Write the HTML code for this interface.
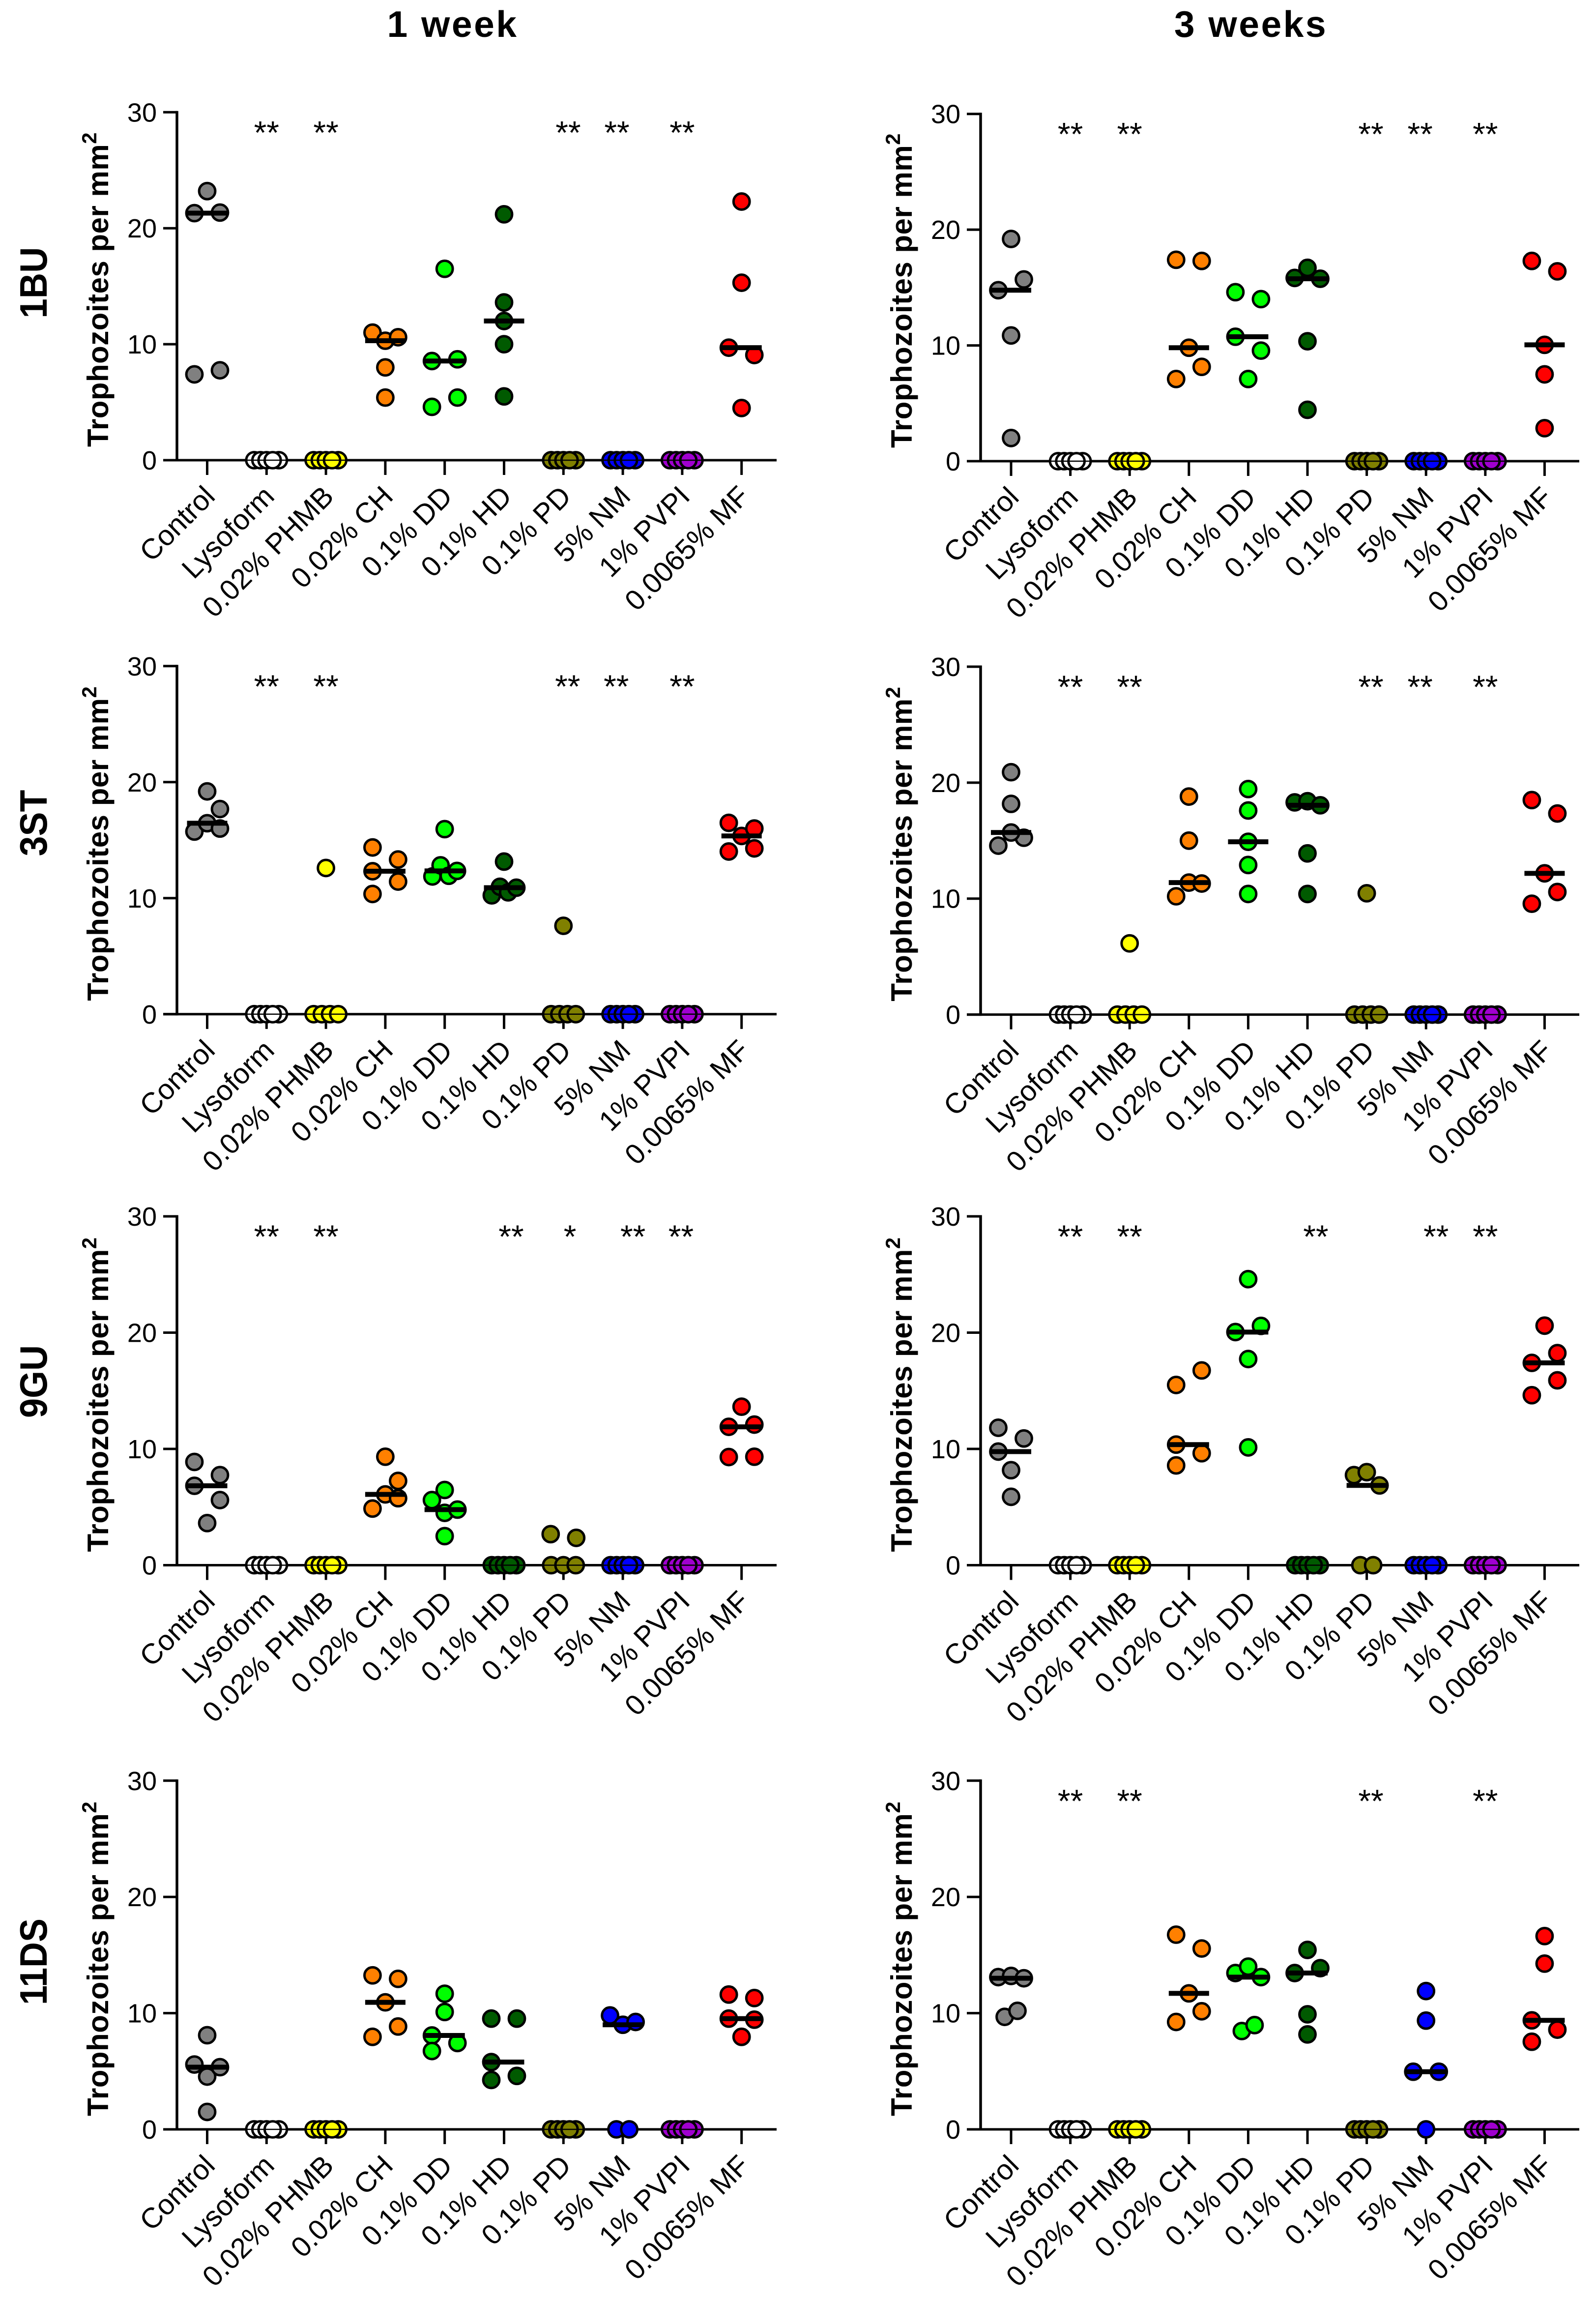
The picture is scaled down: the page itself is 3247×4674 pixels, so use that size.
<!DOCTYPE html>
<html lang="en">
<head>
<meta charset="utf-8">
<title>Trophozoites per mm² by treatment</title>
<style>
html,body{margin:0;padding:0;background:#fff;}
svg{display:block;font-family:"Liberation Sans",Arial,sans-serif;}
</style>
</head>
<body>
<svg id="figure" xmlns="http://www.w3.org/2000/svg" width="3247" height="4674" viewBox="0 0 3247 4674">
  <rect x="0" y="0" width="3247" height="4674" fill="#fff"/>
  <text x="921" y="75" text-anchor="middle" font-size="75" font-weight="700" letter-spacing="3.5">1 week</text>
  <text x="2545" y="75" text-anchor="middle" font-size="75" font-weight="700" letter-spacing="3.5">3 weeks</text>
  <text transform="translate(95 575) rotate(-90)" text-anchor="middle" font-size="78" font-weight="700" textLength="145" lengthAdjust="spacingAndGlyphs">1BU</text>
  <text transform="translate(95 1674) rotate(-90)" text-anchor="middle" font-size="78" font-weight="700" textLength="135" lengthAdjust="spacingAndGlyphs">3ST</text>
  <text transform="translate(95 2810) rotate(-90)" text-anchor="middle" font-size="78" font-weight="700" textLength="148" lengthAdjust="spacingAndGlyphs">9GU</text>
  <text transform="translate(95 3990) rotate(-90)" text-anchor="middle" font-size="78" font-weight="700" textLength="176" lengthAdjust="spacingAndGlyphs">11DS</text>
</svg>
<script>
const categories = ['Control','Lysoform','0.02% PHMB','0.02% CH','0.1% DD','0.1% HD','0.1% PD','5% NM','1% PVPI','0.0065% MF'];
const yTicks = [0,10,20,30];
const groupColors = ['#808080','#ffffff','#ffff00','#ff8000','#00ff00','#005a00','#808000','#0000ff','#a000d0','#ff0000'];

/* One list per category; a nested list is a cluster of near-equal replicates,
   a doubly nested pair is a tightly packed cluster. */
const values1BU1w = [
  [[7.4,7.75],[21.3,21.35],23.2],
  [[0,0,0,0,0]],
  [[0,0,0,0,0]],
  [5.4,8.0,[11.0,10.3,10.6]],
  [[4.6,5.4],[8.55,8.7],16.5],
  [5.5,10,12,13.6,21.2],
  [[0,0,0,0,0]],
  [[0,0,0,0,0]],
  [[0,0,0,0,0]],
  [4.5,[9.7,9.07],15.3,22.3]
];
const values1BU3w = [
  [2.0,10.86,[14.77,15.7],19.2],
  [[0,0,0,0,0]],
  [[0,0,0,0,0]],
  [[7.1,8.15],9.8,[17.4,17.3]],
  [7.1,[10.75,9.55],[14.6,14.0]],
  [4.44,10.36,[15.83,16.7,15.76]],
  [[0,0,0,0,0]],
  [[0,0,0,0,0]],
  [[0,0,0,0,0]],
  [2.85,7.5,10.05,[17.3,16.4]]
];
const values3ST1w = [
  [[15.74,16.46,16.0],17.68,19.2],
  [[0,0,0,0,0]],
  [[0,0,0,0],12.6],
  [[10.36,11.43,12.32,13.33,14.37]],
  [[11.87,12.83,11.93,12.35],15.95],
  [[10.24,10.98,10.5,10.9],13.15],
  [[0,0,0,0],7.62],
  [[0,0,0,0,0]],
  [[0,0,0,0,0]],
  [[14.02,14.29],15.36,16.0,16.49]
];
const values3ST3w = [
  [[14.57,15.25],15.7,18.17,20.9],
  [[0,0,0,0,0]],
  [[0,0,0,0],6.14],
  [[10.2,11.38,11.3],15.0,18.8],
  [10.4,12.9,14.9,17.6,19.45],
  [10.4,13.9,[18.3,18.4,18.05]],
  [[0,0,0,0],10.46],
  [[0,0,0,0,0]],
  [[0,0,0,0,0]],
  [[9.56,10.57],12.18,[18.5,17.34]]
];
const values9GU1w = [
  [3.62,[8.88,7.75,6.83,5.6]],
  [[0,0,0,0,0]],
  [[0,0,0,0,0]],
  [[4.87,6.09,5.76],7.25,9.33],
  [2.5,[5.6,4.5,4.78],6.47],
  [[0,0,0,0,0]],
  [[0,0,0],[2.67,2.35]],
  [[0,0,0,0,0]],
  [[0,0,0,0,0]],
  [[9.3,9.33],[11.9,12.09],13.63]
];
const values9GU3w = [
  [5.88,8.17,[9.77,10.9,11.82]],
  [[0,0,0,0,0]],
  [[0,0,0,0,0]],
  [[8.58,9.63,10.37],[15.5,16.75]],
  [10.13,17.73,[20.05,20.58],24.6],
  [[0,0,0,0,0]],
  [[0,0],[7.75,8.0,6.86]],
  [[0,0,0,0,0]],
  [[0,0,0,0,0]],
  [[14.62,15.9,17.4,18.24],20.6]
];
const values11DS1w = [
  [1.5,4.54,[5.58,5.35],8.1],
  [[0,0,0,0,0]],
  [[0,0,0,0,0]],
  [[7.96,8.85],10.93,[13.25,12.95]],
  [[8.08,7.43,6.74],10.1,11.67],
  [[5.79,4.6,4.25],[9.53,9.53]],
  [[0,0,0,0,0]],
  [[0,0],[9.8,9.0,9.24]],
  [[0,0,0,0,0]],
  [7.96,[9.53,9.44],[11.6,11.3]]
];
const values11DS3w = [
  [[[9.68,10.2]],[13.1,13.2,13.0]],
  [[0,0,0,0,0]],
  [[0,0,0,0,0]],
  [[9.24,10.16],11.7,[16.75,15.56]],
  [[[8.46,8.97]],[13.45,14.0,13.1]],
  [8.17,9.9,[13.45,13.87],15.44],
  [[0,0,0,0,0]],
  [0,[4.96,4.96],9.36,11.9],
  [[0,0,0,0,0]],
  [[9.38,8.58,7.54],14.26,16.63]
];

/* Significance marks: category position (fractional where the mark was set off-centre) and label. */
const sig1BU1w = [[1,'**'],[2,'**'],[6.08,'**'],[6.9,'**'],[8,'**']];
const sig1BU3w = [[1,'**'],[2,'**'],[6.07,'**'],[6.9,'**'],[8,'**']];
const sig3ST1w = [[1,'**'],[2,'**'],[6.07,'**'],[6.89,'**'],[8,'**']];
const sig3ST3w = [[1,'**'],[2,'**'],[6.07,'**'],[6.9,'**'],[8,'**']];
const sig9GU1w = [[1,'**'],[2,'**'],[5.12,'**'],[6.11,'*'],[7.17,'**'],[7.98,'**']];
const sig9GU3w = [[1,'**'],[2,'**'],[5.14,'**'],[7.17,'**'],[8,'**']];
const sig11DS1w = [];
const sig11DS3w = [[1,'**'],[2,'**'],[6.07,'**'],[8,'**']];

const SVG_NS = 'http://www.w3.org/2000/svg';
const figure = document.getElementById('figure');
const SPREAD = 26;
const COLLIDE = 1.4;

function make(tag, parent, attrs) {
  const el = document.createElementNS(SVG_NS, tag);
  for (const k in attrs) el.setAttribute(k, attrs[k]);
  parent.appendChild(el);
  return el;
}

/* Horizontal swarm offsets derived from the values and their order only. */
function placePoints(list) {
  const placed = [];
  list.forEach(function (entry) {
    if (Array.isArray(entry) && Array.isArray(entry[0])) {
      entry[0].forEach(function (v, i) {
        placed.push({ v: v, off: i ? SPREAD / 2 : -SPREAD / 2 });
      });
    } else if (Array.isArray(entry)) {
      const n = entry.length;
      const span = Math.max.apply(null, entry) - Math.min.apply(null, entry);
      const allZero = entry.every(function (v) { return v === 0; });
      const row = [];
      entry.forEach(function (v, i) {
        let off;
        if (!allZero && n >= 3 && span >= 1.3) off = i % 2 ? SPREAD : -SPREAD;
        else if (allZero || n >= 4) off = (i - (n - 1) / 2) * Math.min(SPREAD, 50 / (n - 1));
        else off = n === 2 ? (i ? SPREAD : -SPREAD) : (i - 1) * SPREAD;
        row.push({ v: v, off: off });
      });
      if (allZero && n === 5) row.push(row.splice(3, 1)[0]);
      row.forEach(function (p) { placed.push(p); });
    } else {
      const options = [0, SPREAD, -SPREAD];
      let off = 0;
      for (let o = 0; o < options.length; o++) {
        const clash = placed.some(function (p) {
          return Math.abs(p.off - options[o]) < 1 && Math.abs(p.v - entry) < COLLIDE;
        });
        if (!clash) { off = options[o]; break; }
      }
      placed.push({ v: entry, off: off });
    }
  });
  return placed;
}

function medianOf(points) {
  const sorted = points.map(function (p) { return p.v; }).sort(function (a, b) { return a - b; });
  const m = Math.floor(sorted.length / 2);
  return sorted.length % 2 ? sorted[m] : (sorted[m - 1] + sorted[m]) / 2;
}

function drawPanel(slug, values, sig, frame) {
  const yScale = function (v) { return frame.y0 + (frame.y30 - frame.y0) * v / 30; };
  const xScale = function (i) { return frame.cat0 + frame.step * i; };

  const g = make('g', figure, {});
  
  

  const yAxis = make('line', g, { x1: frame.axisX, x2: frame.axisX, y1: frame.y30 - 2.5, y2: frame.y0 + 2.5, stroke: '#000', 'stroke-width': 5.5 });
  
  

  const xAxis = make('line', g, { x1: frame.axisX - 28, x2: frame.end, y1: frame.y0, y2: frame.y0, stroke: '#000', 'stroke-width': 5 });
  
  

  yTicks.forEach(function (t) {
    const tick = make('line', g, { x1: frame.axisX - 28, x2: frame.axisX, y1: yScale(t), y2: yScale(t), stroke: '#000', 'stroke-width': 5 });
    
    
    const label = make('text', g, { x: frame.axisX - 41, y: yScale(t) + 19, 'text-anchor': 'end', 'font-size': 54 });
    
    
    label.textContent = String(t);
  });

  const yTitle = make('text', g, {
    transform: 'translate(' + (frame.axisX - 140) + ' ' + (frame.y0 - 27) + ') rotate(-90)',
    'font-size': 60, 'font-weight': 700, 'letter-spacing': 0.5
  });
  
  
  const titleMain = make('tspan', yTitle, {});
  titleMain.textContent = 'Trophozoites per mm';
  const titleSup = make('tspan', yTitle, { dy: -24, 'font-size': 42 });
  titleSup.textContent = '2';

  categories.forEach(function (name, i) {
    const tick = make('line', g, { x1: xScale(i), x2: xScale(i), y1: frame.y0, y2: frame.y0 + 30, stroke: '#000', 'stroke-width': 5 });
    
    
    const lx = xScale(i) + 19;
    const ly = frame.y0 + 77;
    const label = make('text', g, { transform: 'translate(' + lx + ' ' + ly + ') rotate(-45)', 'text-anchor': 'end', 'font-size': 58 });
    
    
    label.textContent = name;
  });

  values.forEach(function (list, i) {
    const points = placePoints(list);
    points.forEach(function (p) {
      const dot = make('circle', g, { cx: xScale(i) + p.off, cy: yScale(p.v), r: 16.4, fill: groupColors[i], stroke: '#000', 'stroke-width': 5 });
      
      
    });
    const med = medianOf(points);
    const medLine = make('line', g, { x1: xScale(i) - 41, x2: xScale(i) + 41, y1: yScale(med), y2: yScale(med), stroke: '#000', 'stroke-width': med > 0 ? 10 : 2.5 });
    
    
  });

  sig.forEach(function (s) {
    const mark = make('text', g, { x: xScale(s[0]), y: frame.y30 + 64, 'text-anchor': 'middle', 'font-size': 66 });
    
    
    mark.textContent = s[1];
  });
}

const leftColumn = { axisX: 360, cat0: 421.5, step: 120.8, end: 1580 };
const rightColumn = { axisX: 1995, cat0: 2057, step: 120.6, end: 3213 };
function frameOf(col, y30, y0) {
  return { axisX: col.axisX, cat0: col.cat0, step: col.step, end: col.end, y30: y30, y0: y0 };
}

drawPanel('1bu-1-week', values1BU1w, sig1BU1w, frameOf(leftColumn, 228.3, 936));
drawPanel('1bu-3-weeks', values1BU3w, sig1BU3w, frameOf(rightColumn, 231.7, 938));
drawPanel('3st-1-week', values3ST1w, sig3ST1w, frameOf(leftColumn, 1354.8, 2062.8));
drawPanel('3st-3-weeks', values3ST3w, sig3ST3w, frameOf(rightColumn, 1356, 2063.6));
drawPanel('9gu-1-week', values9GU1w, sig9GU1w, frameOf(leftColumn, 2474, 3183.5));
drawPanel('9gu-3-weeks', values9GU3w, sig9GU3w, frameOf(rightColumn, 2474, 3183.5));
drawPanel('11ds-1-week', values11DS1w, sig11DS1w, frameOf(leftColumn, 3621.8, 4331));
drawPanel('11ds-3-weeks', values11DS3w, sig11DS3w, frameOf(rightColumn, 3621.8, 4331));
</script>
</body>
</html>
